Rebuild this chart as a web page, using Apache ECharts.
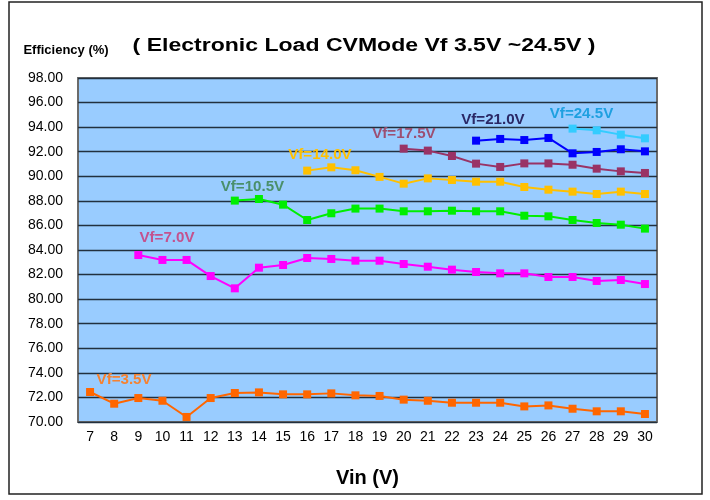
<!DOCTYPE html>
<html>
<head>
<meta charset="utf-8">
<script src="https://cdn.jsdelivr.net/npm/echarts@6/dist/echarts.min.js"></script>
<style>
html, body { margin: 0; padding: 0; background: #fff; }
#main { width: 710px; height: 500px; }
</style>
</head>
<body>
<div id="main"></div>
<script>
// Vin categories (V)
var vin = ['7', '8', '9', '10', '11', '12', '13', '14', '15', '16', '17', '18',
  '19', '20', '21', '22', '23', '24', '25', '26', '27', '28', '29', '30'];

// efficiency (%) per Vf curve, each starts at its own Vin and runs to 30
var vf35 = [72.44, 71.49, 71.95, 71.73, 70.41, 71.95, 72.36, 72.41, 72.25, 72.25, 72.33, 72.17,
  72.12, 71.82, 71.73, 71.57, 71.57, 71.57, 71.27, 71.35, 71.08, 70.87, 70.87, 70.65];
var vf70 = [83.59, 83.19, 83.19, 81.88, 80.88, 82.56, 82.78, 83.35, 83.27, 83.13, 83.13,
  82.86, 82.64, 82.40, 82.21, 82.10, 82.10, 81.80, 81.80, 81.48, 81.56, 81.23];
var vf105 = [88.02, 88.15, 87.69, 86.44, 86.99, 87.37, 87.37, 87.15, 87.15, 87.20, 87.15,
  87.15, 86.79, 86.74, 86.44, 86.20, 86.06, 85.74];
var vf140 = [90.46, 90.73, 90.49, 89.95, 89.40, 89.83, 89.70, 89.56, 89.56, 89.13, 88.91,
  88.75, 88.56, 88.75, 88.56];
var vf175 = [92.25, 92.09, 91.65, 91.03, 90.76, 91.05, 91.05, 90.94, 90.62, 90.40, 90.27];
var vf210 = [92.90, 93.04, 92.95, 93.12, 91.87, 91.98, 92.20, 92.03];
var vf245 = [93.88, 93.74, 93.39, 93.09];

var names = ['Vf=3.5V', 'Vf=7.0V', 'Vf=10.5V', 'Vf=14.0V', 'Vf=17.5V', 'Vf=21.0V', 'Vf=24.5V'];
var curves = [vf35, vf70, vf105, vf140, vf175, vf210, vf245];
var lineColors = ['#ff6600', '#ff00ff', '#00ee00', '#ffc000', '#993366', '#0000ff', '#33ccff'];
var labelColors = ['#f58231', '#c4528e', '#4a8f6a', '#ffc000', '#9c4f72', '#2a2866', '#1ea0e0'];
// where each curve's name is written: [category index, efficiency]
var labelAt = [[1.41, 73.42], [3.19, 85.0], [6.73, 89.15], [9.53, 91.73], [13.01, 93.44], [16.70, 94.53], [20.37, 95.07]];

var yMin = 70, yMax = 98, yStep = 2;

var font = 'Arial, "Liberation Sans", sans-serif';

function pad(arr) {
  var out = [];
  for (var i = 0; i < vin.length - arr.length; i++) out.push(null);
  return out.concat(arr);
}

var series = curves.map(function (arr, i) {
  return {
    name: names[i],
    type: 'line',
    data: pad(arr),
    symbol: 'rect',
    symbolSize: 8,
    connectNulls: false,
    lineStyle: { color: lineColors[i], width: 2 },
    itemStyle: { color: lineColors[i] },
    z: 3 + i
  };
});

var myChart = echarts.init(document.getElementById('main'));
myChart.setOption({
  animation: false,
  backgroundColor: '#fff',
  grid: {
    left: 78,
    top: 78,
    width: 579,
    height: 344,
    show: true,
    backgroundColor: '#99ccff',
    borderColor: '#6b6b6b',
    borderWidth: 2
  },
  xAxis: {
    type: 'category',
    data: vin,
    boundaryGap: true,
    axisLine: { show: false },
    axisTick: { show: false },
    axisLabel: { fontFamily: font, fontSize: 14, color: '#000', margin: 8 },
    name: 'Vin (V)',
    nameLocation: 'middle',
    nameGap: 46,
    nameTextStyle: { fontFamily: font, fontSize: 20, fontWeight: 'bold', color: '#000' }
  },
  yAxis: {
    type: 'value',
    min: yMin,
    max: yMax,
    interval: yStep,
    axisLine: { show: false },
    axisTick: { show: false },
    axisLabel: {
      fontFamily: font, fontSize: 14, color: '#000', margin: 15,
      formatter: function (v) { return v.toFixed(2); }
    },
    splitLine: { lineStyle: { color: '#22303e', width: 1.3 } }
  },
  series: series
});

// curve name labels, titles and frame
function catToPx(pos) {
  var i0 = Math.floor(pos[0]);
  var a = myChart.convertToPixel({ gridIndex: 0 }, [i0, pos[1]]);
  var b = myChart.convertToPixel({ gridIndex: 0 }, [i0 + 1, pos[1]]);
  var f = pos[0] - i0;
  return [a[0] + (b[0] - a[0]) * f, a[1]];
}

var graphics = [
  {
    type: 'rect',
    shape: { x: 9, y: 2, width: 693, height: 492 },
    style: { fill: 'none', stroke: '#222', lineWidth: 1.5 },
    silent: true
  },
  {
    type: 'text',
    x: 364, y: 46, scaleX: 1.28,
    style: {
      text: '( Electronic Load CVMode Vf 3.5V ~24.5V )', fill: '#000',
      align: 'center', verticalAlign: 'middle',
      font: 'bold 18px ' + font
    }
  },
  {
    type: 'text',
    x: 66, y: 50,
    style: {
      text: 'Efficiency (%)', fill: '#000', align: 'center', verticalAlign: 'middle',
      font: 'bold 13px ' + font
    }
  }
];
labelAt.forEach(function (pos, i) {
  var p = catToPx(pos);
  graphics.push({
    type: 'text',
    x: p[0], y: p[1], z: 20, scaleX: 1.08,
    style: {
      text: names[i], fill: labelColors[i], align: 'center', verticalAlign: 'middle',
      font: 'bold 14px ' + font
    }
  });
});
myChart.setOption({ graphic: graphics });
</script>
</body>
</html>
